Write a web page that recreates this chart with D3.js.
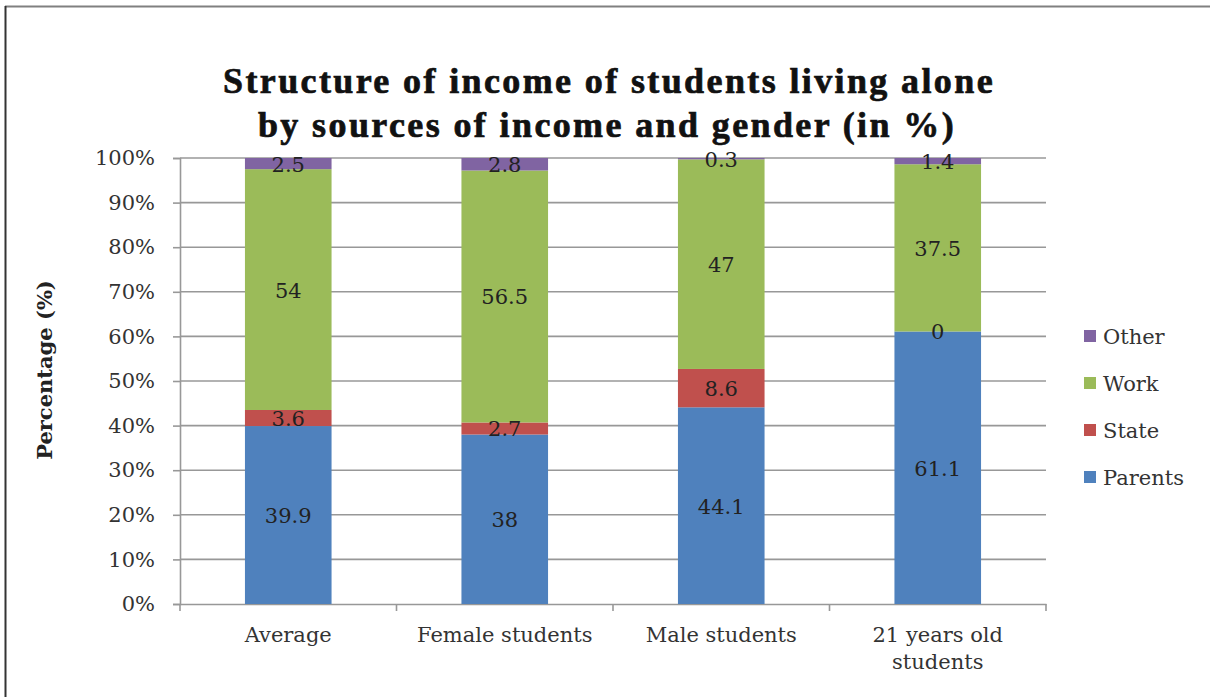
<!DOCTYPE html>
<html>
<head>
<meta charset="utf-8">
<script src="https://cdn.jsdelivr.net/npm/d3@7/dist/d3.min.js"></script>
<style>
  html, body { margin: 0; padding: 0; background: #fff; }
  svg { display: block; }
</style>
</head>
<body>
<svg id="chart" width="1210" height="697"></svg>
<script>
// ---- Data ----
const categories = ["Average", "Female students", "Male students", "21 years old students"];
const categoryLines = [["Average"], ["Female students"], ["Male students"], ["21 years old", "students"]];
const seriesNames = ["Parents", "State", "Work", "Other"];
const parents = [39.9, 38, 44.1, 61.1];
const state   = [3.6, 2.7, 8.6, 0];
const work    = [54, 56.5, 47, 37.5];
const other   = [2.5, 2.8, 0.3, 1.4];
const yTicks  = [0, 10, 20, 30, 40, 50, 60, 70, 80, 90, 100];
const titleLines = ["Structure of income of students living alone", "by sources of income and gender (in %)"];
const yAxisTitle = "Percentage (%)";

const colors = { Parents: "#4F81BD", State: "#C0504D", Work: "#9BBB59", Other: "#8064A2" };

const rows = categories.map((c, i) => ({
  category: c, Parents: parents[i], State: state[i], Work: work[i], Other: other[i]
}));

const svg = d3.select("#chart");
const W = 1210, H = 697;
svg.append("rect").attr("width", W).attr("height", H).attr("fill", "#fff");

// frame
svg.append("line").attr("x1", 5).attr("x2", W).attr("y1", 6.5).attr("y2", 6.5)
  .attr("stroke", "#808080").attr("stroke-width", 2);
svg.append("line").attr("x1", 5.5).attr("x2", 5.5).attr("y1", 6).attr("y2", H)
  .attr("stroke", "#333").attr("stroke-width", 2);

const plot = { left: 180, right: 1046, top: 158, bottom: 604 };

const x = d3.scaleBand().domain(categories).range([plot.left, plot.right])
  .paddingInner(0.6).paddingOuter(0.3);
const y = d3.scaleLinear().domain([0, 100]).range([plot.bottom, plot.top]);

const serif = "'DejaVu Serif', serif";
const gridColor = "#989898";
const textColor = "#333";

// gridlines
svg.append("g").selectAll("line").data(yTicks.filter(t => t > 0)).join("line")
  .attr("x1", plot.left).attr("x2", plot.right)
  .attr("y1", d => y(d)).attr("y2", d => y(d))
  .attr("stroke", gridColor).attr("stroke-width", 1.6);

// y axis
const yAxis = d3.axisLeft(y).tickValues(yTicks).tickFormat(d => d + "%").tickSize(7).tickPadding(18);
const gy = svg.append("g").attr("transform", `translate(${plot.left},0)`).call(yAxis);
gy.select(".domain").attr("stroke", gridColor).attr("stroke-width", 1.6);
gy.selectAll(".tick line").attr("stroke", gridColor).attr("stroke-width", 1.6);
gy.selectAll(".tick text").attr("font-family", serif).attr("font-size", 21).attr("fill", textColor);

// x axis
const xAxis = d3.axisBottom(x).tickSize(0).tickFormat("");
const gx = svg.append("g").attr("transform", `translate(0,${plot.bottom})`).call(xAxis);
gx.select(".domain").attr("stroke", gridColor).attr("stroke-width", 1.6);
gx.selectAll(".tick").remove();
// boundary ticks
const bounds = [plot.left].concat(categories.map(c => x(c) + x.bandwidth() / 2 + x.step() / 2));
svg.append("g").selectAll("line").data(bounds).join("line")
  .attr("x1", d => d).attr("x2", d => d)
  .attr("y1", plot.bottom).attr("y2", plot.bottom + 7)
  .attr("stroke", gridColor).attr("stroke-width", 1.6);

// x labels
const xl = svg.append("g");
categoryLines.forEach((lines, i) => {
  const cx = x(categories[i]) + x.bandwidth() / 2;
  const t = xl.append("text").attr("text-anchor", "middle")
    .attr("font-family", serif).attr("font-size", 21).attr("fill", textColor);
  lines.forEach((ln, j) => {
    t.append("tspan").attr("x", cx).attr("y", 642 + j * 27).text(ln);
  });
});

// stacked bars
const stack = d3.stack().keys(seriesNames);
const stacked = stack(rows);

const bars = svg.append("g");
stacked.forEach(layer => {
  bars.append("g").attr("fill", colors[layer.key]).selectAll("rect").data(layer).join("rect")
    .attr("x", d => x(d.data.category))
    .attr("width", x.bandwidth())
    .attr("y", d => y(d[1]))
    .attr("height", d => y(d[0]) - y(d[1]));
});

// data labels
const labels = svg.append("g");
stacked.forEach(layer => {
  labels.selectAll(null).data(layer).join("text")
    .attr("x", d => x(d.data.category) + x.bandwidth() / 2)
    .attr("y", d => y((d[0] + d[1]) / 2))
    .attr("dy", "0.38em")
    .attr("text-anchor", "middle")
    .attr("font-family", serif).attr("font-size", 21).attr("fill", "#222")
    .text(d => d.data[layer.key]);
});

// legend (top to bottom: Other, Work, State, Parents)
const legendOrder = seriesNames.slice().reverse();
const lg = svg.append("g");
legendOrder.forEach((k, i) => {
  const cy = 337 + i * 47;
  lg.append("rect").attr("x", 1084).attr("y", cy - 7).attr("width", 12).attr("height", 12).attr("fill", colors[k]);
  lg.append("text").attr("x", 1103).attr("y", cy).attr("dy", "0.35em")
    .attr("font-family", serif).attr("font-size", 21).attr("fill", textColor).text(k);
});

// y axis title
svg.append("text")
  .attr("transform", "translate(52,370) rotate(-90)")
  .attr("text-anchor", "middle")
  .attr("font-family", serif).attr("font-weight", "bold").attr("font-size", 21).attr("fill", "#222")
  .text(yAxisTitle);

// title
const titleFont = "'Liberation Serif', 'Times New Roman', serif";
const titleSize = 36;
const tg = svg.append("g");
const t1 = tg.append("text").attr("x", 609).attr("y", 93).attr("text-anchor", "middle")
  .attr("font-family", titleFont).attr("font-weight", "bold").attr("font-size", titleSize).attr("fill", "#111")
  .attr("stroke", "#111").attr("stroke-width", 0.7)
  .text(titleLines[0]);
// widen with letter spacing to ~772px
const w1 = t1.node().getComputedTextLength();
const ls = Math.max(0, (772 - w1) / titleLines[0].length);
t1.attr("letter-spacing", ls);
tg.append("text").attr("x", 607).attr("y", 137).attr("text-anchor", "middle")
  .attr("font-family", titleFont).attr("font-weight", "bold").attr("font-size", titleSize).attr("fill", "#111")
  .attr("stroke", "#111").attr("stroke-width", 0.7).attr("letter-spacing", ls)
  .text(titleLines[1]);
</script>
</body>
</html>
